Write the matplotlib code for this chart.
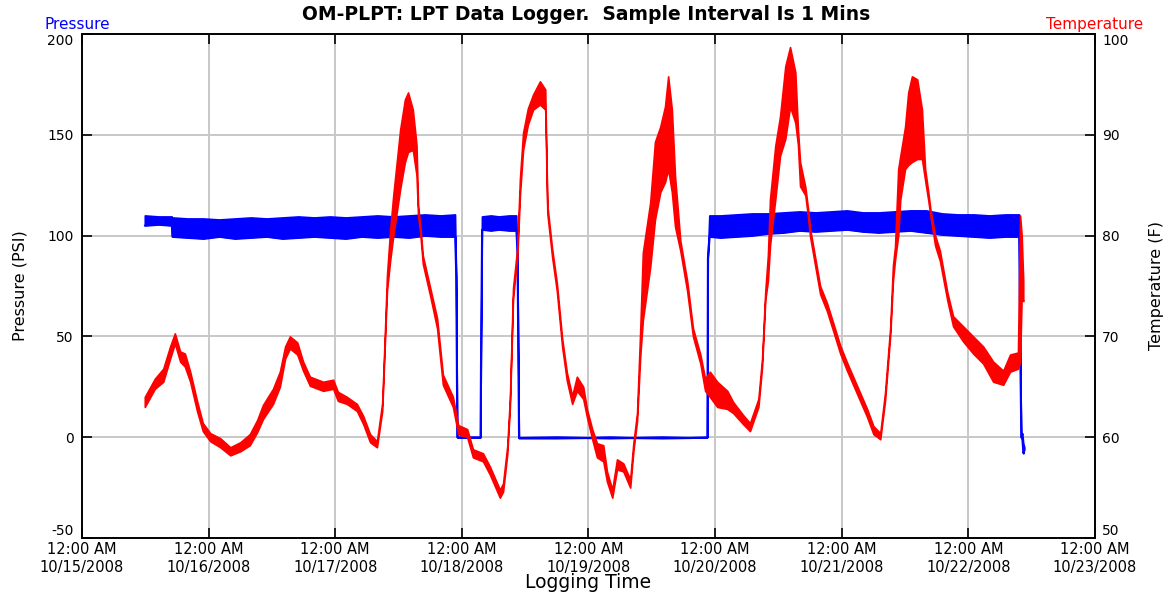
import pandas as pd
import matplotlib
matplotlib.use("Agg")
import matplotlib.pyplot as plt
import matplotlib.dates as mdates

plt.rcParams['font.family'] = ['DejaVu Sans']
plt.rcParams['axes.unicode_minus'] = False

# Logger window; readings are given as hours after START
START = pd.Timestamp('2008-10-15 00:00')
END = pd.Timestamp('2008-10-23 00:00')

# Temperature (F): hours, lower and upper edge of the noisy trace
temp_hours = [11.9, 13.8, 15.4, 16.7, 17.6, 18.6, 19.5, 20.5, 21.8, 22.9, 24.3, 26.2,
              28.1, 30.0, 31.8, 33.2, 34.3, 36.2, 37.5, 38.5, 39.4, 40.8, 41.9, 43.2,
              45.7, 47.6, 48.5, 50.2, 52.1, 53.3, 54.6, 55.9, 56.9, 57.4, 57.8, 58.4,
              59.0, 60.3, 61.2, 61.8, 62.7, 63.4, 63.7, 64.1, 64.6, 66.0, 67.3, 68.4,
              70.3, 71.3, 73.0, 74.1, 76.0, 77.3, 79.2, 79.8, 80.6, 81.1, 81.7, 82.5,
              83.0, 83.6, 84.5, 85.5, 86.8, 87.8, 88.2, 89.1, 90.0, 91.0, 91.9, 92.9,
              93.8, 95.0, 95.7, 96.7, 97.6, 98.8, 99.5, 100.5, 101.4, 102.6, 103.9,
              104.5, 105.2, 105.8, 106.3, 107.7, 108.6, 109.6, 110.5, 111.1, 111.8,
              112.4, 113.4, 114.7, 115.8, 117.2, 118.1, 119.0, 120.4, 122.3, 123.4,
              125.3, 126.6, 128.2, 128.9, 129.5, 130.0, 130.4, 131.4, 132.3, 133.3,
              134.2, 135.2, 135.7, 136.1, 137.1, 137.6, 138.0, 139.9, 141.2, 142.4,
              143.7, 145.0, 146.9, 148.8, 150.0, 151.3, 152.2, 153.2, 153.7, 154.1,
              154.7, 155.1, 156.0, 156.6, 157.3, 158.3, 159.2, 159.8, 160.4, 160.8,
              161.7, 162.6, 164.0, 165.1, 167.0, 168.9, 170.8, 172.7, 174.6, 175.9,
              177.4, 177.8, 178.1, 178.4]
temp_lo = [63.0, 64.8, 65.5, 67.8, 69.3, 67.5, 67.0, 65.5, 62.6, 60.6, 59.6, 59.0,
           58.2, 58.6, 59.2, 60.5, 61.8, 63.3, 65.0, 67.8, 68.8, 68.2, 66.6, 65.1,
           64.6, 64.8, 63.6, 63.3, 62.6, 61.3, 59.5, 59.0, 62.6, 69.3, 74.5, 77.5,
           80.0, 84.6, 87.3, 88.3, 88.5, 86.0, 82.0, 80.3, 77.2, 74.0, 70.8, 65.2,
           63.0, 60.3, 60.0, 58.0, 57.6, 56.3, 54.0, 54.6, 58.3, 63.0, 73.8, 77.8,
           84.0, 88.5, 91.0, 92.5, 93.0, 92.5, 82.2, 77.9, 74.5, 69.0, 65.6, 63.3,
           64.6, 63.8, 62.0, 59.8, 58.0, 57.6, 55.6, 54.0, 56.8, 56.6, 55.0,
           58.6, 61.6, 68.0, 71.6, 76.9, 81.6, 84.3, 85.3, 86.6, 84.3,
           80.9, 78.5, 74.5, 70.0, 67.3, 64.6, 64.0, 63.0, 62.8, 62.4,
           61.3, 60.6, 63.0, 67.0, 73.6, 75.5, 79.0, 83.6, 87.9, 89.6,
           92.8, 91.2, 89.0, 84.9, 84.0, 81.9, 79.9, 74.2, 72.5, 70.5,
           68.3, 66.6, 64.3, 62.0, 60.3, 59.8, 63.6, 70.2, 75.5, 77.6,
           80.0, 83.6, 86.6, 87.0, 87.3, 87.6, 87.6, 85.5, 83.5, 82.0,
           79.0, 77.5, 73.6, 71.0, 69.5, 68.3, 67.3, 65.5, 65.2, 66.5,
           66.8, 67.5, 74.0, 73.5]
temp_hi = [64.0, 65.8, 66.8, 69.0, 70.3, 68.5, 68.3, 66.5, 63.6, 61.4, 60.4, 59.9,
           59.0, 59.5, 60.3, 61.7, 63.2, 64.8, 66.5, 69.0, 70.0, 69.4, 67.5, 66.0,
           65.5, 65.7, 64.5, 64.0, 63.3, 62.1, 60.3, 59.6, 63.4, 70.2, 76.0, 80.5,
           84.0, 90.5, 93.5, 94.2, 92.5, 89.0, 83.0, 81.0, 78.0, 74.8, 71.8, 66.2,
           64.0, 61.2, 60.8, 58.8, 58.4, 57.1, 54.8, 55.4, 59.1, 63.8, 74.8, 78.8,
           85.6, 90.2, 92.6, 94.0, 95.3, 94.5, 83.0, 78.7, 75.3, 69.8, 66.4, 64.1,
           66.0, 65.0, 62.8, 60.8, 59.4, 59.2, 56.6, 54.8, 57.8, 57.4, 55.8,
           59.4, 62.4, 70.5, 78.3, 83.3, 89.3, 90.8, 92.8, 95.8, 92.5,
           85.9, 79.5, 75.5, 70.8, 68.2, 65.8, 66.5, 65.5, 64.6, 63.5,
           62.2, 61.4, 63.8, 67.8, 74.4, 78.0, 83.6, 88.9, 91.8, 96.8,
           98.7, 96.2, 90.5, 87.3, 84.8, 82.7, 80.7, 75.0, 73.3, 71.3,
           69.1, 67.4, 65.1, 62.8, 61.1, 60.4, 64.4, 71.0, 77.0, 78.9,
           86.6, 87.9, 90.8, 94.2, 95.8, 95.5, 92.5, 86.6, 84.3, 82.6,
           80.0, 78.5, 74.4, 72.0, 71.0, 70.0, 69.0, 67.5, 66.6, 68.2,
           68.4, 82.0, 80.0, 75.5]

# Pressure (PSI): hours, lower and upper edge of the noisy trace
pres_hours = [11.9, 14.5, 17.0, 17.1, 20.0, 23.0, 26.0, 29.0, 32.0, 35.0, 38.0, 41.0,
              44.0, 47.0, 50.0, 53.0, 56.0, 59.0, 62.0, 65.0, 68.0, 70.7, 70.9, 71.1,
              75.5, 75.6, 75.8, 77.5, 79.0, 81.0, 82.3, 82.5, 82.8, 90.0, 95.5, 100.0,
              104.0, 110.0, 115.0, 118.5, 118.6, 118.9, 121.0, 124.0, 127.0, 130.0,
              133.0, 136.0, 139.0, 142.0, 145.0, 148.0, 151.0, 154.0, 157.0, 160.0,
              163.0, 166.0, 169.0, 172.0, 175.0, 177.6, 177.8, 178.0, 178.2, 178.4,
              178.6]
pres_lo = [105.0, 105.5, 105.0, 99.5, 99.0, 98.5, 99.5, 98.5, 99.0, 99.5, 98.5, 99.0,
           99.5, 99.0, 98.5, 99.5, 99.0, 99.5, 99.0, 100.0, 99.5, 99.5, 80.0, 0.0,
           0.0, 41.0, 103.0, 102.5, 103.0, 102.5, 102.5, 92.0, -0.5, -0.5, -0.3, -0.5,
           -0.3, -0.5, -0.3, 0.0, 89.0, 99.5, 99.0, 99.5, 100.0, 101.0,
           101.5, 102.5, 102.0, 102.5, 103.0, 102.0, 101.5, 102.0, 102.5, 101.5,
           100.5, 100.0, 99.5, 99.0, 99.5, 99.5, 42.0, 0.0, -1.0, -8.0,
           -6.0]
pres_hi = [110.0, 109.5, 109.5, 109.0, 108.5, 108.5, 108.0, 108.5, 109.0, 108.5, 109.0, 109.5,
           109.0, 109.5, 109.0, 109.5, 110.0, 109.5, 110.0, 110.5, 110.0, 110.5, 80.0, 0.0,
           0.0, 41.0, 109.5, 110.0, 109.5, 110.0, 110.0, 92.0, 0.0, 0.3, 0.0, 0.3,
           0.0, 0.3, 0.0, 0.0, 89.0, 110.0, 110.0, 110.5, 111.0, 111.0,
           111.5, 112.0, 111.5, 112.0, 112.5, 111.5, 111.5, 112.0, 112.5, 112.5,
           111.0, 110.5, 110.5, 110.0, 110.5, 110.5, 42.0, 0.0, 2.0, -3.0,
           -5.0]

t_temp = START + pd.to_timedelta(temp_hours, unit='h')
t_pres = START + pd.to_timedelta(pres_hours, unit='h')

fig = plt.figure(figsize=(11.73, 5.94), dpi=100)
ax = fig.add_axes([0.0699, 0.0943, 0.8636, 0.8485])
ax2 = ax.twinx()

# pressure on the left axis
ax.fill_between(t_pres, pres_lo, pres_hi, color='#0000ff', lw=1.2, zorder=3)
ax.plot(t_pres, pres_lo, color='#0000ff', lw=1.2, zorder=3)
ax.set_ylim(-50, 200)
ax.set_yticks(range(-50, 201, 50))
ax.set_xlim(START, END)
ax.xaxis.set_major_locator(mdates.DayLocator())
ax.xaxis.set_major_formatter(mdates.DateFormatter('%I:%M %p\n%m/%d/%Y'))
ax.grid(True, color='#c8c8c8', lw=1.4, zorder=0)
ax.set_axisbelow(True)
ax.tick_params(axis='y', direction='in', length=7, width=1.2, labelsize=10, pad=6)
ax.tick_params(axis='x', direction='in', length=7, width=1.2, labelsize=10.5, pad=3,
               top=True)
ax.set_ylabel('Pressure (PSI)', fontsize=11.5, va='center', rotation_mode='anchor')
ax.yaxis.set_label_coords(-0.061, 0.5)
ax.set_xlabel('Logging Time', fontsize=13.5, va='center')
ax.xaxis.set_label_coords(0.5, -0.088)

# temperature on the right axis, drawn on top
ax2.fill_between(t_temp, temp_lo, temp_hi, color='#ff0000', lw=1.2)
ax2.set_ylim(50, 100)
ax2.set_yticks(range(50, 101, 10))
ax2.tick_params(direction='in', length=7, width=1.2, labelsize=10, pad=5)
ax2.set_ylabel('Temperature (F)', fontsize=11.5, va='center', rotation_mode='anchor')
ax2.yaxis.set_label_coords(1.061, 0.5)

# end labels sit inside the frame, like the logger software draws them
for a in (ax, ax2):
    labels = a.get_yticklabels()
    labels[0].set_va('bottom')
    labels[-1].set_va('top')
    for s in a.spines.values():
        s.set_linewidth(1.2)

fig.text(0.5, 0.975, 'OM-PLPT: LPT Data Logger.  Sample Interval Is 1 Mins',
         fontsize=13.5, fontweight='bold', ha='center', va='center')
fig.text(0.038, 0.958, 'Pressure', color='#0000ff', fontsize=11, va='center')
fig.text(0.975, 0.958, 'Temperature', color='#ff0000', fontsize=11,
         va='center', ha='right')

fig.savefig('out.png', dpi=100)
